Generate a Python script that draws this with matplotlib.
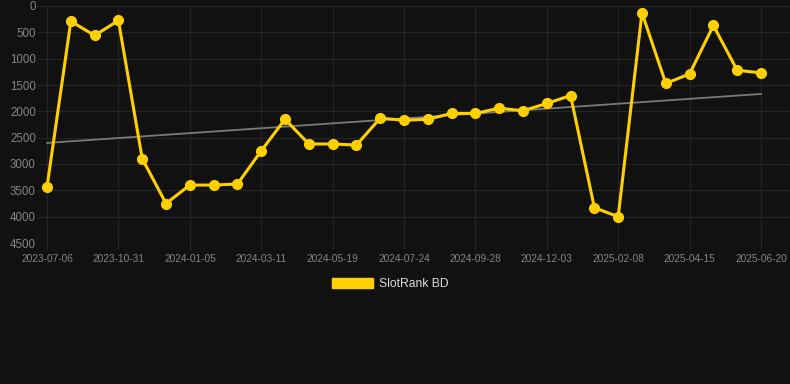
import matplotlib
matplotlib.use("Agg")
import matplotlib.pyplot as plt
from matplotlib.patches import Patch

# rank per observation (lower is better), one point per snapshot
ranks = [3430, 290, 560, 275, 2900, 3750, 3400, 3400, 3380, 2750,
         2150, 2620, 2620, 2640, 2130, 2170, 2150, 2040, 2040, 1940,
         1990, 1850, 1700, 3830, 4000, 130, 1470, 1290, 370, 1220, 1270]
# labelled snapshots (every third point)
tick_labels = ["2023-07-06", "2023-10-31", "2024-01-05", "2024-03-11",
               "2024-05-19", "2024-07-24", "2024-09-28", "2024-12-03",
               "2025-02-08", "2025-04-15", "2025-06-20"]
trend = [2600, 1670]  # trend line start / end
y_ticks = [0, 500, 1000, 1500, 2000, 2500, 3000, 3500, 4000, 4500]

BG = "#111111"
YELLOW = "#FFD000"

plt.rcParams["font.family"] = ["Liberation Sans", "DejaVu Sans"]

fig = plt.figure(figsize=(7.9, 3.84), dpi=100, facecolor=BG)
ax = fig.add_axes([38 / 790, 141 / 384, 752 / 790, 237 / 384], facecolor=BG)

x = list(range(len(ranks)))
ax.plot([x[0], x[-1]], trend, color="#7a7a7a", lw=1.3, zorder=2)
ax.plot(x, ranks, color=YELLOW, lw=2.2, marker="o", ms=7, zorder=3)

ax.set_ylim(4500, 0)
ax.set_xlim(-0.38, 31.22)
ax.set_yticks(y_ticks)
ax.set_xticks(x[::3])
ax.set_xticklabels(tick_labels)
ax.tick_params(axis="y", colors="#858585", labelsize=8.3, length=0, pad=1.5)
ax.tick_params(axis="x", labelcolor="#858585", labelsize=7.3,
               length=4, width=0.8, pad=4, color="#2a2a2a")
ax.grid(True, color="#242424", lw=0.8)
for s in ax.spines.values():
    s.set_visible(False)

leg = ax.legend(handles=[Patch(facecolor=YELLOW, edgecolor=YELLOW)],
                labels=["SlotRank BD"], loc="center",
                bbox_to_anchor=(390 / 790, 1 - 284 / 384),
                bbox_transform=fig.transFigure, frameon=False,
                fontsize=8.7, handlelength=3.4, handleheight=0.9,
                handletextpad=0.5)
for t in leg.get_texts():
    t.set_color("#dddddd")

fig.savefig("out.png", dpi=100, facecolor=BG)
